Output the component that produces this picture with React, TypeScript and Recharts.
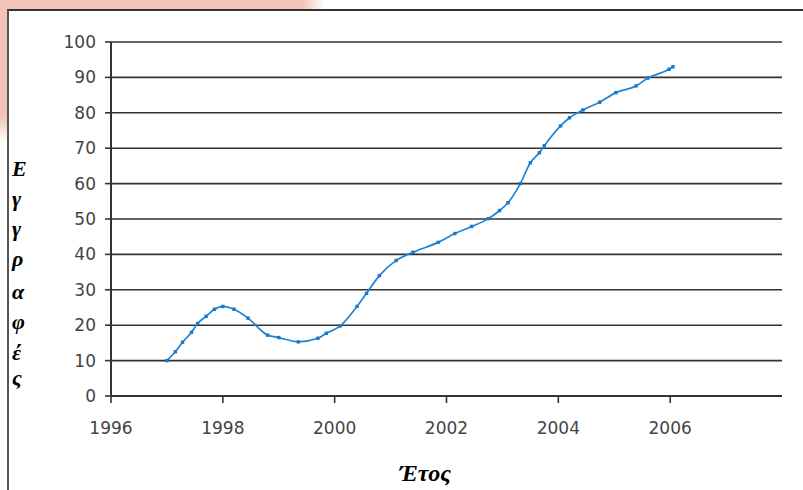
import React from "react";
import { LineChart, Line, XAxis, YAxis, CartesianGrid } from "recharts";

const years = [
  1997.0, 1997.15, 1997.28, 1997.44, 1997.55, 1997.7, 1997.85, 1998.0, 1998.2, 1998.45,
  1998.8, 1999.0, 1999.35, 1999.7, 1999.85, 2000.1, 2000.4, 2000.57, 2000.8, 2001.1,
  2001.4, 2001.85, 2002.15, 2002.45, 2002.75, 2002.95, 2003.1, 2003.32, 2003.5, 2003.66,
  2003.75, 2004.04, 2004.2, 2004.44, 2004.74, 2005.03, 2005.39, 2005.6, 2005.98, 2006.05,
];
const values = [
  10, 12.5, 15.2, 18, 20.5, 22.5, 24.5, 25.3, 24.5, 22,
  17.2, 16.5, 15.3, 16.3, 17.7, 19.8, 25.3, 29, 34, 38.3,
  40.6, 43.4, 45.9, 47.9, 50.1, 52.4, 54.6, 60, 65.9, 68.7,
  70.7, 76.3, 78.6, 80.8, 83, 85.7, 87.6, 89.8, 92.3, 93,
];
const xTicks = [1996, 1998, 2000, 2002, 2004, 2006];
const yTicks = [0, 10, 20, 30, 40, 50, 60, 70, 80, 90, 100];
const yTitleLetters = ["Ε", "γ", "γ", "ρ", "α", "φ", "έ", "ς"];
const yTitleBaselines = [176, 206, 236, 266, 299, 329, 360, 385];
const xTitle = "Έτος";

const data = years.map((y, i) => ({ year: y, value: values[i] }));

const SquareDot = (props: any) => {
  const { cx, cy } = props;
  if (cx == null || cy == null) return null;
  return <rect x={cx - 1.7} y={cy - 1.7} width={3.4} height={3.4} fill="#1a78c8" />;
};

const tickStyle = { fontFamily: "DejaVu Sans", fontSize: 17, fill: "#444" };

export default function App() {
  return (
    <div style={{ position: "fixed", left: 0, top: 0, width: 803, height: 490, background: "#fff", overflow: "hidden" }}>
      <svg width={803} height={490} style={{ position: "absolute", left: 0, top: 0 }}>
        <defs>
          <linearGradient id="pinkH" x1="0" y1="0" x2="1" y2="0">
            <stop offset="0.93" stopColor="#f3c2b8" />
            <stop offset="1" stopColor="#f3c2b8" stopOpacity="0" />
          </linearGradient>
          <linearGradient id="pinkV" x1="0" y1="0" x2="0" y2="1">
            <stop offset="0.82" stopColor="#f3c2b8" />
            <stop offset="1" stopColor="#f3c2b8" stopOpacity="0" />
          </linearGradient>
        </defs>
        <rect x={0} y={0} width={325} height={10} fill="url(#pinkH)" />
        <rect x={0} y={0} width={8} height={142} fill="url(#pinkV)" />
        <line x1={7} y1={10} x2={803} y2={10} stroke="#333" strokeWidth={2} />
        <line x1={8} y1={10} x2={8} y2={490} stroke="#555" strokeWidth={2} />
        {yTitleLetters.map((ch, i) => (
          <text
            key={i}
            x={12}
            y={yTitleBaselines[i]}
            fontFamily="Liberation Serif"
            fontWeight="bold"
            fontStyle="italic"
            fontSize={22}
            fill="#000"
          >
            {ch}
          </text>
        ))}
        <text
          x={425}
          y={481}
          textAnchor="middle"
          fontFamily="Liberation Serif"
          fontWeight="bold"
          fontStyle="italic"
          fontSize={24}
          fill="#000"
        >
          {xTitle}
        </text>
      </svg>
      <div style={{ position: "absolute", left: 0, top: 0 }}>
        <LineChart width={803} height={490} data={data} margin={{ top: 42, right: 21, bottom: 64, left: 51 }}>
          <CartesianGrid horizontal vertical={false} stroke="#333" strokeWidth={1.6} />
          <XAxis
            dataKey="year"
            type="number"
            domain={[1996, 2008]}
            ticks={xTicks}
            height={30}
            tickSize={7}
            tickMargin={19}
            axisLine={{ stroke: "#333", strokeWidth: 2 }}
            tickLine={{ stroke: "#333", strokeWidth: 1.6 }}
            tick={tickStyle}
            interval={0}
            allowDataOverflow
          />
          <YAxis
            type="number"
            domain={[0, 100]}
            ticks={yTicks}
            width={60}
            tickSize={6}
            tickMargin={9}
            axisLine={{ stroke: "#333", strokeWidth: 2 }}
            tickLine={{ stroke: "#333", strokeWidth: 1.6 }}
            tick={tickStyle}
            interval={0}
          />
          <Line
            type="monotone"
            dataKey="value"
            stroke="#1f84d6"
            strokeWidth={1.7}
            dot={<SquareDot />}
            activeDot={false}
            isAnimationActive={false}
          />
        </LineChart>
      </div>
    </div>
  );
}
